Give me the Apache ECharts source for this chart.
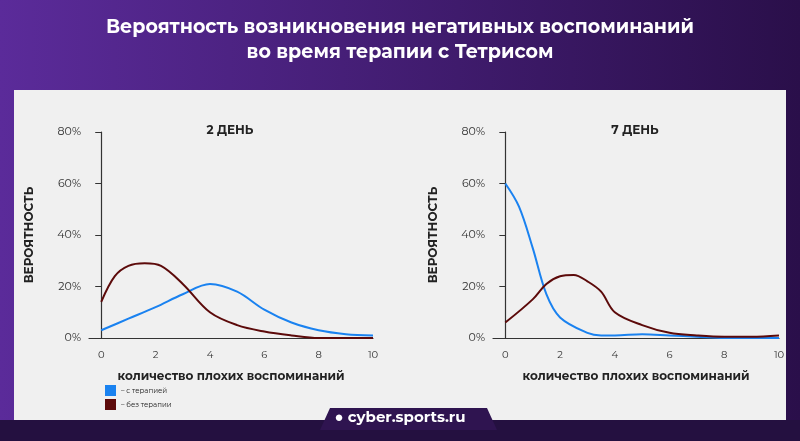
<!DOCTYPE html>
<html><head><meta charset="utf-8">
<script src="https://cdn.jsdelivr.net/npm/echarts@6/dist/echarts.min.js"></script>
<style>html,body{margin:0;padding:0;}#c{width:800px;height:441px;}</style>
</head><body><div id="c"></div>
<script>
// день 2
var day2With = [[0,3],[1,7.5],[2,12],[3,17],[4,21],[5,18],[6,11],[7,6],[8,3],[9,1.5],[10,1]];
var day2Without = [[0,14],[0.5,24],[1,28],[1.6,29],[2.2,28],[3,21],[4,10],[5,5],[6,2.5],[7,1],[8,0],[10,0]];
// день 7
var day7With = [[0,60],[0.5,51],[1,35],[1.5,17],[2,8],[3,2],[3.5,1],[4,1],[5,1.5],[6,1],[7,0.5],[8,0],[10,0]];
var day7Without = [[0,6],[1,15],[1.5,21],[2,24],[2.5,24.5],[3,22],[3.5,18],[4,10],[5,5],[6,2],[7,1],[8,0.5],[9,0.5],[10,1]];
var yTicks = [0,20,40,60,80];
var xTicks = [0,2,4,6,8,10];

var blue = '#1a82f0', brown = '#5c0a0a';
var font = 'Montserrat, "Noto Sans", sans-serif';

function xAx(i){
  return {type:'value', gridIndex:i, min:-0.45, max:10,
    axisLine:{show:true,lineStyle:{color:'#333',width:1.2}}, axisTick:{show:false}, splitLine:{show:false},
    axisLabel:{color:'#333',fontSize:10,margin:12,fontFamily:font,customValues:xTicks,showMinLabel:true,showMaxLabel:true},
    name:'количество плохих воспоминаний', nameLocation:'middle', nameGap:32,
    nameTextStyle:{color:'#222',fontWeight:'bold',fontSize:12,fontFamily:font}};
}
function yAx(i){
  return {type:'value', gridIndex:i, min:0, max:80, interval:20,
    axisLine:{show:true,lineStyle:{color:'#333',width:1.2}}, axisTick:{show:true,length:6,lineStyle:{color:'#333'}},
    splitLine:{show:false},
    axisLabel:{color:'#333',fontSize:11,fontFamily:font,formatter:'{value}%'},
    name:'ВЕРОЯТНОСТЬ', nameLocation:'middle', nameGap:54,
    nameTextStyle:{color:'#222',fontWeight:'bold',fontSize:12,fontFamily:font}};
}
function line(i,data,color){
  return {type:'line', xAxisIndex:i, yAxisIndex:i, data:data, smooth:0.35, symbol:'none',
    lineStyle:{color:color,width:2}};
}

var chart = echarts.init(document.getElementById('c'));
chart.setOption({
  animation:false,
  backgroundColor: new echarts.graphic.LinearGradient(0,0,1,0,[{offset:0,color:'#5b2b9a'},{offset:1,color:'#2a0f4a'}]),
  graphic:[
    {type:'rect', shape:{x:14,y:90,width:772,height:330}, style:{fill:'#f0f0f0'}},
    {type:'rect', shape:{x:0,y:420,width:800,height:21}, style:{fill:'#241040'}},
    {type:'polygon', shape:{points:[[330,408],[487,408],[497,430],[320,430]]}, style:{fill:'#2f1450'}},
    {type:'text', left:'center', top:410, style:{text:'● cyber.sports.ru', fill:'#fff', font:'bold 15px '+font}}
  ],
  title:[
    {text:'Вероятность возникновения негативных воспоминаний\nво время терапии с Тетрисом', left:'center', top:10,
      textStyle:{color:'#fff',fontSize:19,fontWeight:'bold',lineHeight:25,fontFamily:font}},
    {text:'2 ДЕНЬ', left:225, top:119, textAlign:'center', textStyle:{color:'#222',fontSize:12,fontWeight:'bold',fontFamily:font}},
    {text:'7 ДЕНЬ', left:630, top:119, textAlign:'center', textStyle:{color:'#222',fontSize:12,fontWeight:'bold',fontFamily:font}}
  ],
  legend:{orient:'vertical', left:100, top:380, itemWidth:11, itemHeight:11, itemGap:3, icon:'rect',
    textStyle:{fontSize:7,color:'#222',fontFamily:font},
    data:['– с терапией','– без терапии']},
  grid:[
    {left:89, top:132, width:284, height:206},
    {left:493, top:132, width:286, height:206}
  ],
  xAxis:[xAx(0),xAx(1)],
  yAxis:[yAx(0),yAx(1)],
  series:[
    Object.assign(line(0,day2With,blue),{name:'– с терапией'}),
    Object.assign(line(0,day2Without,brown),{name:'– без терапии'}),
    line(1,day7With,blue),
    line(1,day7Without,brown)
  ],
  color:[blue,brown]
});
</script></body></html>
